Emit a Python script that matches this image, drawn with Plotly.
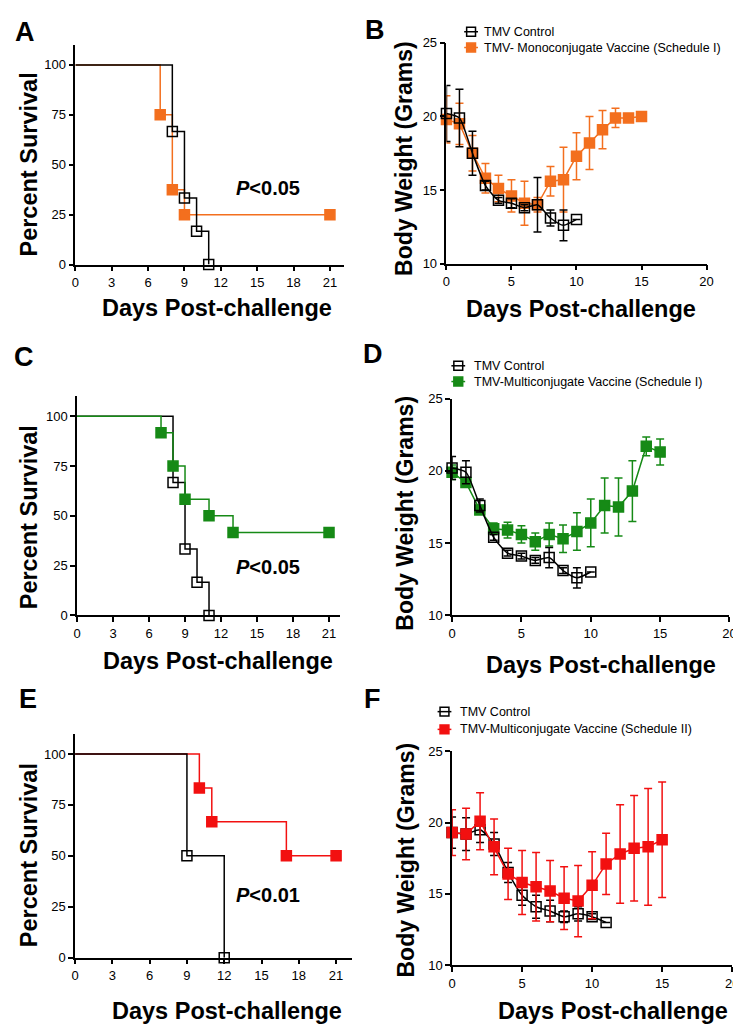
import plotly.graph_objects as go

W, H = 741, 1024

# ---------------- data ----------------
# Survival (Kaplan-Meier) panels
a_ctrl_days = [0, 8, 9, 10, 11]
a_ctrl_surv = [100, 66.7, 33.3, 16.7, 0]
a_vac_days = [0, 7, 8, 9, 21]
a_vac_surv = [100, 75, 37.5, 25, 25]

c_ctrl_days = [0, 8, 9, 10, 11]
c_ctrl_surv = [100, 66.7, 33.3, 16.7, 0]
c_vac_days = [0, 7, 8, 9, 11, 13, 21]
c_vac_surv = [100, 91.7, 75, 58.3, 50, 41.7, 41.7]

e_ctrl_days = [0, 9, 12]
e_ctrl_surv = [100, 50, 0]
e_vac_days = [0, 10, 11, 17, 21]
e_vac_surv = [100, 83.3, 66.7, 50, 50]

p_labels = ["P<0.05", "P<0.05", "P<0.01"]

# Body weight panels
b_ctrl_days = list(range(0, 11))
b_ctrl_wt = [20.2, 19.9, 17.5, 15.3, 14.3, 14.1, 13.8, 14.0, 13.1, 12.6, 13.0]
b_ctrl_err = [1.9, 1.95, 1.5, 0.3, 0.2, 0.3, 0.2, 1.85, 0.55, 1.05, 0.0]
b_vac_days = list(range(0, 16))
b_vac_wt = [19.8, 19.5, 17.5, 15.8, 15.1, 14.6, 14.1, 14.0, 15.6, 15.7, 17.3, 18.2, 19.1, 19.9, 19.9, 20.0]
b_vac_err = [1.6, 1.4, 1.2, 1.0, 0.9, 1.1, 1.5, 0.5, 1.0, 2.2, 1.6, 1.8, 1.3, 0.65, 0.0, 0.0]

d_ctrl_days = list(range(0, 11))
d_ctrl_wt = [20.2, 19.9, 17.6, 15.4, 14.3, 14.1, 13.8, 14.0, 13.1, 12.6, 13.0]
d_ctrl_err = [0.8, 0.8, 0.45, 0.2, 0.2, 0.2, 0.2, 0.7, 0.2, 0.7, 0.0]
d_vac_days = list(range(0, 16))
d_vac_wt = [19.9, 19.2, 17.3, 16.0, 15.9, 15.6, 15.1, 15.6, 15.3, 15.8, 16.4, 17.6, 17.5, 18.6, 21.7, 21.3]
d_vac_err = [0.5, 0.3, 0.3, 0.4, 0.55, 0.6, 0.6, 0.8, 0.95, 1.3, 1.65, 1.9, 2.0, 2.1, 0.65, 0.9]

f_ctrl_days = list(range(0, 12))
f_ctrl_wt = [19.3, 19.2, 19.5, 18.5, 16.5, 14.9, 14.1, 13.8, 13.4, 13.6, 13.4, 13.0]
f_ctrl_err = [1.1, 1.15, 0.9, 0.8, 0.7, 0.7, 0.8, 0.75, 0.4, 0.5, 0.2, 0.0]
f_vac_days = list(range(0, 16))
f_vac_wt = [19.3, 19.2, 20.1, 18.3, 16.4, 15.8, 15.5, 15.2, 14.7, 14.5, 15.6, 17.1, 17.8, 18.2, 18.3, 18.8]
f_vac_err = [1.6, 1.8, 2.0, 1.95, 1.8, 2.25, 2.4, 2.15, 2.2, 2.5, 2.35, 2.15, 3.45, 3.7, 4.1, 4.05]

ctrl_name = "TMV Control"
b_vac_name = "TMV- Monoconjugate Vaccine (Schedule I)"
d_vac_name = "TMV-Multiconjugate Vaccine (Schedule I)"
f_vac_name = "TMV-Multiconjugate Vaccine (Schedule II)"

surv_xticks = [0, 3, 6, 9, 12, 15, 18, 21]
surv_yticks = [0, 25, 50, 75, 100]
wt_xticks = [0, 5, 10, 15, 20]
wt_yticks = [10, 15, 20, 25]

ORANGE = "#F36F1E"
GREEN = "#168A16"
RED = "#F21010"
BLACK = "#000000"

TICKFONT = "Liberation Sans, Arial, sans-serif"
BOLD = "Liberation Sans, Arial, sans-serif"


def px(x):
    return x / W


def py(y):
    return 1 - y / H


fig = go.Figure()


def surv_traces(days, surv, color, xa, ya, filled):
    fig.add_trace(go.Scatter(x=days, y=surv, mode="lines", line=dict(color=color, width=1.5, shape="hv"),
                             xaxis=xa, yaxis=ya, showlegend=False, hoverinfo="skip", cliponaxis=False))
    fig.add_trace(go.Scatter(x=days[1:], y=surv[1:], mode="markers",
                             marker=dict(symbol="square" if filled else "square-open", size=10,
                                         color=color, line=dict(color=color, width=1.5)),
                             xaxis=xa, yaxis=ya, showlegend=False, cliponaxis=False))


def wt_trace(days, wt, err, color, xa, ya, name, filled, spline):
    fig.add_trace(go.Scatter(
        x=days, y=wt, mode="lines+markers", name=name, showlegend=False,
        error_y=dict(type="data", array=err, visible=True, color=color, thickness=1.5, width=4),
        line=dict(color=color, width=1.5, shape="spline" if spline else "linear", smoothing=0.6),
        marker=dict(symbol="square" if filled else "square-open", size=10, color=color,
                    line=dict(color=color, width=1.5)),
        xaxis=xa, yaxis=ya, cliponaxis=False))


# Panel A (orange below black)
surv_traces(a_vac_days, a_vac_surv, ORANGE, "x", "y", True)
surv_traces(a_ctrl_days, a_ctrl_surv, BLACK, "x", "y", False)
# Panel C (green above black)
surv_traces(c_ctrl_days, c_ctrl_surv, BLACK, "x3", "y3", False)
surv_traces(c_vac_days, c_vac_surv, GREEN, "x3", "y3", True)
# Panel E
surv_traces(e_vac_days, e_vac_surv, RED, "x5", "y5", True)
surv_traces(e_ctrl_days, e_ctrl_surv, BLACK, "x5", "y5", False)

# Panel B
wt_trace(b_vac_days, b_vac_wt, b_vac_err, ORANGE, "x2", "y2", b_vac_name, True, False)
wt_trace(b_ctrl_days, b_ctrl_wt, b_ctrl_err, BLACK, "x2", "y2", ctrl_name, False, True)
# Panel D
wt_trace(d_vac_days, d_vac_wt, d_vac_err, GREEN, "x4", "y4", d_vac_name, True, False)
wt_trace(d_ctrl_days, d_ctrl_wt, d_ctrl_err, BLACK, "x4", "y4", ctrl_name, False, True)
# Panel F
wt_trace(f_ctrl_days, f_ctrl_wt, f_ctrl_err, BLACK, "x6", "y6", ctrl_name, False, True)
wt_trace(f_vac_days, f_vac_wt, f_vac_err, RED, "x6", "y6", f_vac_name, True, False)

axis_common = dict(showgrid=False, zeroline=False, showline=True, linecolor="black", linewidth=1.5,
                   ticks="outside", ticklen=5, tickwidth=1.5, tickcolor="black",
                   tickfont=dict(family=TICKFONT, size=13, color="black"), fixedrange=True)

# panel geometry in pixels: (x_left, x_right, y_top, y_bottom, xrange, yrange, xticks, yticks)
panels = {
    "": (64.3, 337, 30, 253.3, [0, 22.16], [0, 110.2], surv_xticks, surv_yticks),
    "2": (441, 705, 28.3, 252.3, [0, 20], [10, 25], wt_xticks, wt_yticks),
    "3": (66, 333, 386.7, 609.3, [0, 21.92], [0, 110.2], surv_xticks, surv_yticks),
    "4": (446.7, 728.3, 389.3, 609.3, [0, 20], [10, 25], wt_xticks, wt_yticks),
    "5": (64, 345, 729.3, 956.7, [0, 22.27], [0, 110], surv_xticks, surv_yticks),
    "6": (446.7, 731, 747.3, 964.3, [0, 20], [10, 25], wt_xticks, wt_yticks),
}

layout = dict(width=W, height=H, autosize=False, margin=dict(l=0, r=0, t=0, b=0),
              paper_bgcolor="white", plot_bgcolor="white", showlegend=False)
for k, (xl, xr, yt, yb, xrng, yrng, xt, yt_) in panels.items():
    layout["xaxis" + k] = dict(axis_common, domain=[px(xl), px(xr)], range=xrng, tickvals=xt,
                               anchor="y" + k)
    layout["yaxis" + k] = dict(axis_common, domain=[py(yb), py(yt)], range=yrng, tickvals=yt_,
                               anchor="x" + k)
fig.update_layout(**layout)

annotations = []
shapes = []


def ann(text, x, y, size, angle=0, family=BOLD, xanchor="center"):
    annotations.append(dict(text=text, x=px(x), y=py(y), xref="paper", yref="paper", showarrow=False,
                            xanchor=xanchor, yanchor="middle", textangle=angle,
                            font=dict(family=family, size=size, color="black")))


# panel letters
for letter, x, y in [("A", 13, 17), ("B", 368, 15), ("C", 12, 347), ("D", 366, 344), ("E", 16, 694), ("F", 366, 694)]:
    ann("<b>%s</b>" % letter, x, y, 27)

# x titles
for x, y in [(208, 297), (578, 298), (209, 656), (598, 660), (218, 1011), (610, 1011)]:
    ann("<b>Days Post-challenge</b>", x, y, 23.5)

# y titles
for x, y in [(17, 152), (17, 510), (17, 853)]:
    ann("<b>Percent Survival</b>", x, y, 23.5, angle=-90)
for x, y in [(398, 146), (399, 506), (400, 858)]:
    ann("<b>Body Weight (Grams)</b>", x, y, 23, angle=-90)

# p-values
for lab, (x, y) in zip(p_labels, [(260, 176), (260, 560), (260, 893)]):
    ann("<b><i>P</i>%s</b>" % lab[1:].replace("<", "&lt;"), x, y, 20)


# legends (symbol: short line with square marker, then label)
def legend_item(cx, cy, color, filled, label, text_x):
    shapes.append(dict(type="line", xref="paper", yref="paper", x0=px(cx - 7), x1=px(cx + 7),
                       y0=py(cy), y1=py(cy), line=dict(color=color, width=1.5)))
    shapes.append(dict(type="rect", xref="paper", yref="paper", x0=px(cx - 4.5), x1=px(cx + 4.5),
                       y0=py(cy - 4.5), y1=py(cy + 4.5), line=dict(color=color, width=1.5),
                       fillcolor=color if filled else "rgba(0,0,0,0)"))
    ann(label, text_x, cy, 12.5, family=TICKFONT, xanchor="left")


legend_item(466, 17, BLACK, False, ctrl_name, 477)
legend_item(466, 33, ORANGE, True, b_vac_name, 477)
legend_item(453, 356, BLACK, False, ctrl_name, 467)
legend_item(453, 372, GREEN, True, d_vac_name, 467)
legend_item(439, 707, BLACK, False, ctrl_name, 453)
legend_item(439, 725, RED, True, f_vac_name, 453)

fig.update_layout(annotations=annotations, shapes=shapes)

fig.write_html("out.html")
